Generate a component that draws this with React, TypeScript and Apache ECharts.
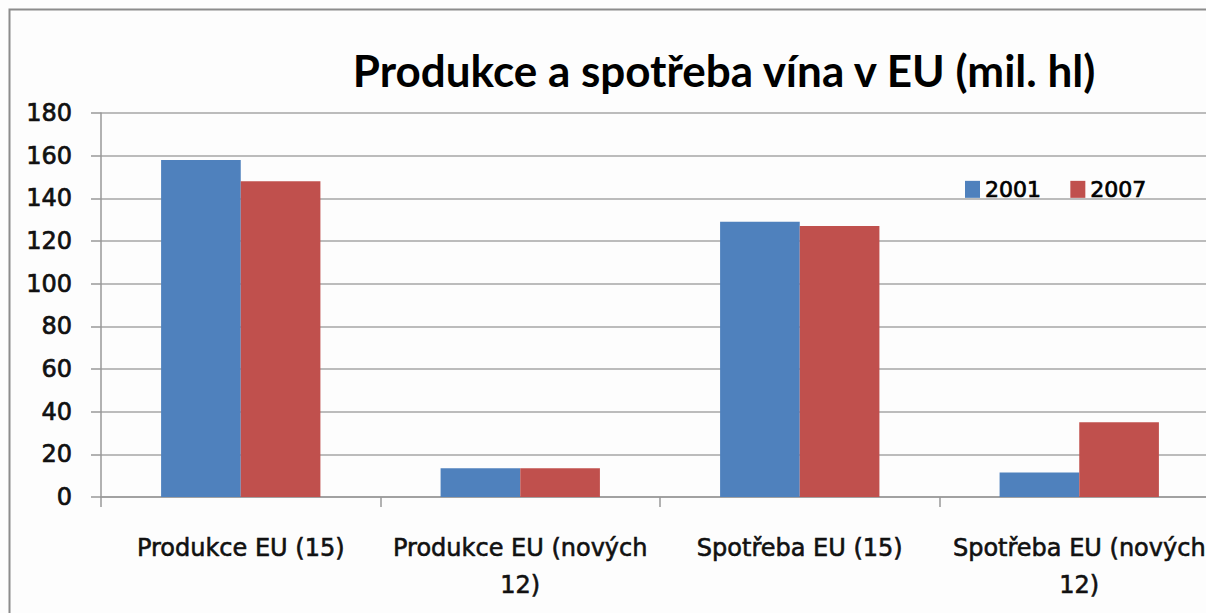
import React, { useEffect, useRef } from "react";
import * as echarts from "echarts";

const categories = [
  "Produkce EU (15)",
  "Produkce EU (nových 12)",
  "Spotřeba EU (15)",
  "Spotřeba EU (nových 12)",
];
const values2001 = [158, 13.5, 129, 11.5];
const values2007 = [148, 13.5, 127, 35];
const seriesNames = ["2001", "2007"];
const titleText = "Produkce a spotřeba vína v EU (mil. hl)";

const TITLE_FONT = "Lato, 'Open Sans', sans-serif";
const FONT = "'DejaVu Sans', 'Open Sans', sans-serif";

export default function App() {
  const ref = useRef<HTMLDivElement>(null);
  useEffect(() => {
    if (!ref.current) return;
    const chart = echarts.init(ref.current, null, { renderer: "svg" });
    chart.setOption({
      animation: false,
      backgroundColor: "#fdfdfd",
      textStyle: { fontFamily: FONT },
      graphic: [
        {
          type: "rect",
          shape: { x: 9.5, y: 9.5, width: 1400, height: 800 },
          style: { fill: "none", stroke: "#8c8c8c", lineWidth: 2 },
          silent: true,
        },
        {
          type: "text",
          x: 724,
          y: 70,
          style: {
            text: titleText,
            font: `bold 44px ${TITLE_FONT}`,
            fill: "#000",
            textAlign: "center",
            textVerticalAlign: "middle",
          },
        },
      ],
      legend: {
        data: seriesNames,
        left: 960,
        top: 173,
        itemWidth: 15,
        itemHeight: 17,
        itemGap: 29,
        icon: "rect",
        textStyle: {
          fontFamily: FONT,
          fontSize: 22,
          color: "#000",
          textBorderColor: "#000",
          textBorderWidth: 0.7,
        },
      },
      grid: { left: 101, right: 81, top: 113, bottom: 116 },
      xAxis: {
        type: "category",
        data: categories,
        axisLine: { lineStyle: { color: "#999", width: 1.5 } },
        axisTick: { show: true, length: 10, lineStyle: { color: "#999", width: 1.5 } },
        axisLabel: {
          interval: 0,
          margin: 32,
          fontFamily: FONT,
          fontSize: 24,
          lineHeight: 37,
          color: "#111",
          textBorderColor: "#111",
          textBorderWidth: 0.6,
          formatter: (v: string) => v.replace(" 12)", "\n12)"),
        },
      },
      yAxis: {
        type: "value",
        min: 0,
        max: 180,
        interval: 20,
        axisLine: { show: true, lineStyle: { color: "#999", width: 1.5 } },
        axisTick: { show: true, length: 10, lineStyle: { color: "#999", width: 1.5 } },
        splitLine: { lineStyle: { color: "#a6a6a6", width: 1.5 } },
        axisLabel: {
          margin: 29,
          fontFamily: FONT,
          fontSize: 24,
          color: "#111",
          textBorderColor: "#111",
          textBorderWidth: 0.7,
        },
      },
      series: [
        {
          name: seriesNames[0],
          type: "bar",
          data: values2001,
          itemStyle: { color: "#4f81bd" },
          barGap: "0%",
          barCategoryGap: "43%",
        },
        {
          name: seriesNames[1],
          type: "bar",
          data: values2007,
          itemStyle: { color: "#c0504d" },
          barGap: "0%",
          barCategoryGap: "43%",
        },
      ],
    });
    return () => chart.dispose();
  }, []);
  return (
    <div
      style={{
        position: "fixed",
        left: 0,
        top: 0,
        width: 1206,
        height: 613,
        overflow: "hidden",
        background: "#fff",
      }}
    >
      <div ref={ref} style={{ width: 1300, height: 613 }} />
    </div>
  );
}
